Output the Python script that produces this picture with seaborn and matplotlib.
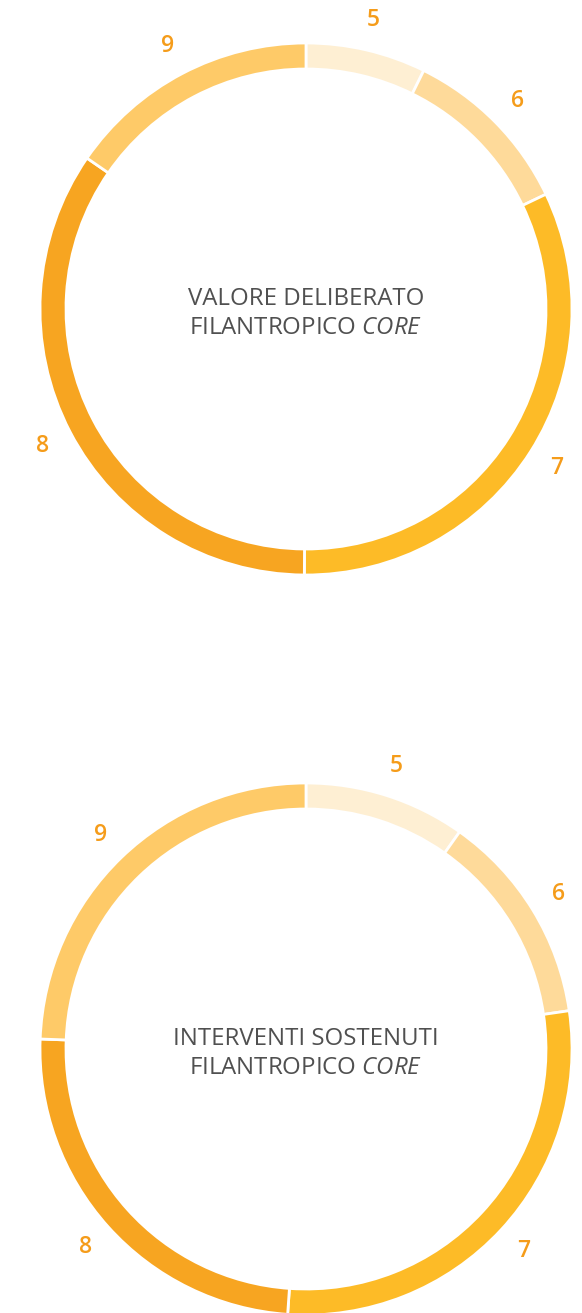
import matplotlib
matplotlib.use("Agg")
import matplotlib.pyplot as plt
import seaborn as sns

sns.set_theme(style="white")
plt.rcParams['font.family'] = ['Open Sans', 'DejaVu Sans']
plt.rcParams['mathtext.fontset'] = 'custom'
plt.rcParams['mathtext.rm'] = 'Open Sans'
plt.rcParams['mathtext.it'] = 'Open Sans:italic'

# Data
labels = ["5", "6", "7", "8", "9"]
deliberato = [7.3, 10.6, 32.2, 34.5, 15.4]
interventi = [9.8, 12.9, 28.4, 24.5, 24.4]
colors = ["#FEEFD3", "#FEDA9A", "#FDBB27", "#F7A521", "#FECA68"]
titles = ["VALORE DELIBERATO\nFILANTROPICO $\\mathit{CORE}$",
          "INTERVENTI SOSTENUTI\nFILANTROPICO $\\mathit{CORE}$"]

W, H = 582, 1313
fig = plt.figure(figsize=(W / 100, H / 100), dpi=100)

R = 266      # outer radius in px
L = 1.15     # data half-range
side = 2 * L * R
centers = [(306, 309), (306, 1049)]

for (cx, cy), vals, title in zip(centers, [deliberato, interventi], titles):
    ax = fig.add_axes([(cx - side / 2) / W, (H - cy - side / 2) / H, side / W, side / H])
    wedges, texts = ax.pie(vals, labels=labels, colors=colors, startangle=90,
                           counterclock=False, radius=1.0, labeldistance=1.115,
                           wedgeprops=dict(width=26 / R, edgecolor="white", linewidth=2),
                           textprops=dict(color="#F59C1A", fontsize=16.5, fontweight="semibold"))
    for t in texts:
        t.set_clip_on(False)
        t.set_ha("center")
        t.set_va("center")
    ax.text(0, -0.018, title, ha="center", va="center", fontsize=17.3,
            color="#505050", linespacing=1.28)
    ax.set_xlim(-L, L)
    ax.set_ylim(-L, L)
    ax.set_aspect("equal")
    ax.axis("off")

fig.savefig("out.png", dpi=100, facecolor="white")
